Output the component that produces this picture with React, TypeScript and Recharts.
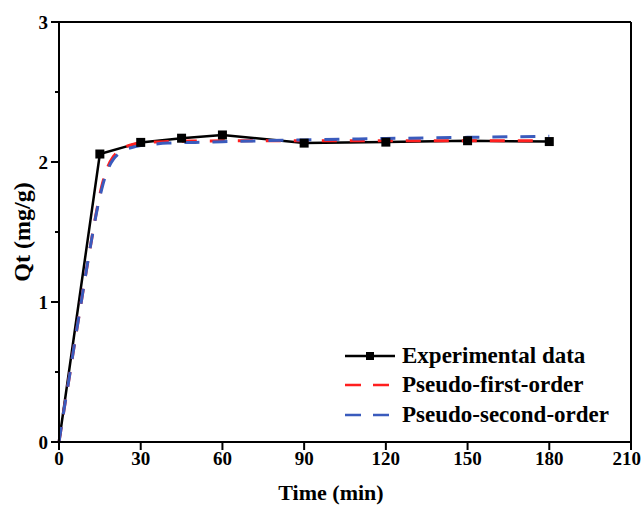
import React from "react";
import {
  ComposedChart, Line, XAxis, YAxis, Legend, ReferenceLine,
} from "recharts";

// experimental points (time in min, Qt in mg/g)
const expTime = [0, 15, 30, 45, 60, 90, 120, 150, 180];
const expQt = [0, 2.057, 2.14, 2.17, 2.193, 2.135, 2.142, 2.152, 2.146];

// fitted curves
const fitTime = [0, 2, 4, 6, 8, 10, 12, 14, 16, 18, 20, 22, 24, 26, 28, 30, 35, 40, 50, 60, 75, 90, 105, 120, 135, 150, 165, 180];
const pfoQt = [0, 0.25, 0.49, 0.74, 0.98, 1.22, 1.45, 1.67, 1.85, 1.97, 2.04, 2.08, 2.105, 2.12, 2.13, 2.135, 2.143, 2.147, 2.15, 2.151, 2.152, 2.152, 2.152, 2.152, 2.152, 2.152, 2.152, 2.152];
const psoQt = [0, 0.25, 0.49, 0.74, 0.98, 1.22, 1.45, 1.66, 1.83, 1.95, 2.02, 2.06, 2.085, 2.1, 2.11, 2.118, 2.128, 2.135, 2.14, 2.145, 2.152, 2.158, 2.163, 2.168, 2.172, 2.176, 2.18, 2.184];

const xTicks = [0, 30, 60, 90, 120, 150, 180, 210];
const yTicks = [0, 0.5, 1, 1.5, 2, 2.5, 3];

const expData = expTime.map((t, i) => ({ t, q: expQt[i] }));
const pfoData = fitTime.map((t, i) => ({ t, q: pfoQt[i] }));
const psoData = fitTime.map((t, i) => ({ t, q: psoQt[i] }));

const FONT = "'Liberation Serif', 'Times New Roman', serif";
const RED = "#ff1f1f";
const BLUE = "#3a5bbd";

function YTick(props: any) {
  const { x, y, payload } = props;
  const v = payload.value;
  const major = Number.isInteger(v);
  return (
    <g>
      <line x1={x} x2={x - (major ? 8 : 4)} y1={y} y2={y} stroke="#000" strokeWidth={2} />
      {major && (
        <text x={x - 11} y={y} dy="0.35em" textAnchor="end" fontFamily={FONT} fontWeight="bold" fontSize={19} fill="#000">
          {v}
        </text>
      )}
    </g>
  );
}

function Square(props: any) {
  const { cx, cy, payload, index } = props;
  if (!payload || payload.t === 0) return <g key={index} />;
  return <rect key={index} x={cx - 4.5} y={cy - 4.5} width={9} height={9} fill="#000" />;
}

function LegendBox() {
  const row = { display: "flex", alignItems: "center", height: 29.5 } as const;
  const txt = { fontFamily: FONT, fontWeight: "bold", fontSize: 23, color: "#000", marginLeft: 7, whiteSpace: "nowrap" } as const;
  return (
    <div>
      <div style={row}>
        <svg width={50} height={20}>
          <line x1={0} x2={50} y1={10} y2={10} stroke="#000" strokeWidth={2.5} />
          <rect x={21} y={6} width={8} height={8} fill="#000" />
        </svg>
        <span style={txt}>Experimental data</span>
      </div>
      <div style={row}>
        <svg width={50} height={20}>
          <line x1={0} x2={50} y1={10} y2={10} stroke={RED} strokeWidth={2.5} strokeDasharray="16 12" />
        </svg>
        <span style={txt}>Pseudo-first-order</span>
      </div>
      <div style={row}>
        <svg width={50} height={20}>
          <line x1={0} x2={50} y1={10} y2={10} stroke={BLUE} strokeWidth={2.5} strokeDasharray="16 12" />
        </svg>
        <span style={txt}>Pseudo-second-order</span>
      </div>
    </div>
  );
}

export default function App() {
  return (
    <div style={{ position: "absolute", left: 0, top: 0, width: 641, height: 507, background: "#fff" }}>
      <ComposedChart width={641} height={507} margin={{ top: 22, right: 10, left: 0, bottom: 0 }}>
        <XAxis
          type="number"
          dataKey="t"
          domain={[0, 210]}
          ticks={xTicks}
          height={65}
          allowDuplicatedCategory={false}
          axisLine={{ stroke: "#000", strokeWidth: 2 }}
          tickLine={{ stroke: "#000", strokeWidth: 2 }}
          tickSize={8}
          tickMargin={2}
          tick={{ fill: "#000", fontFamily: FONT, fontWeight: "bold", fontSize: 19 }}
          label={{
            content: ({ viewBox }: any) => (
              <text
                x={viewBox.x + viewBox.width / 2 - 14}
                y={viewBox.y + 58}
                textAnchor="middle"
                fontFamily={FONT}
                fontWeight="bold"
                fontSize={22}
                fill="#000"
              >
                Time (min)
              </text>
            ),
          }}
        />
        <YAxis
          type="number"
          domain={[0, 3]}
          ticks={yTicks}
          width={59}
          axisLine={{ stroke: "#000", strokeWidth: 2 }}
          tickLine={false}
          tickSize={0}
          tickMargin={0}
          tick={<YTick />}
          label={{
            content: ({ viewBox }: any) => {
              const cx = 22;
              const cy = viewBox.y + viewBox.height / 2;
              return (
                <text
                  x={cx}
                  y={cy}
                  dy="0.35em"
                  transform={`rotate(-90, ${cx}, ${cy})`}
                  textAnchor="middle"
                  fontFamily={FONT}
                  fontWeight="bold"
                  fontSize={24}
                  fill="#000"
                >
                  Qt (mg/g)
                </text>
              );
            },
          }}
        />
        <ReferenceLine y={3} stroke="#000" strokeWidth={2} />
        <ReferenceLine x={210} stroke="#000" strokeWidth={2} />
        <Line
          data={expData}
          dataKey="q"
          type="linear"
          stroke="#000"
          strokeWidth={2.5}
          dot={<Square />}
          activeDot={false}
          isAnimationActive={false}
          name="Experimental data"
        />
        <Line
          data={pfoData}
          dataKey="q"
          type="monotone"
          stroke={RED}
          strokeWidth={3}
          strokeDasharray="15 13"
          dot={false}
          activeDot={false}
          isAnimationActive={false}
          name="Pseudo-first-order"
        />
        <Line
          data={psoData}
          dataKey="q"
          type="monotone"
          stroke={BLUE}
          strokeWidth={3}
          strokeDasharray="15 13"
          dot={false}
          activeDot={false}
          isAnimationActive={false}
          name="Pseudo-second-order"
        />
        <Legend
          layout="vertical"
          align="center"
          verticalAlign="middle"
          content={() => <LegendBox />}
          wrapperStyle={{ left: 345, top: 341, width: 290 }}
        />
      </ComposedChart>
    </div>
  );
}
